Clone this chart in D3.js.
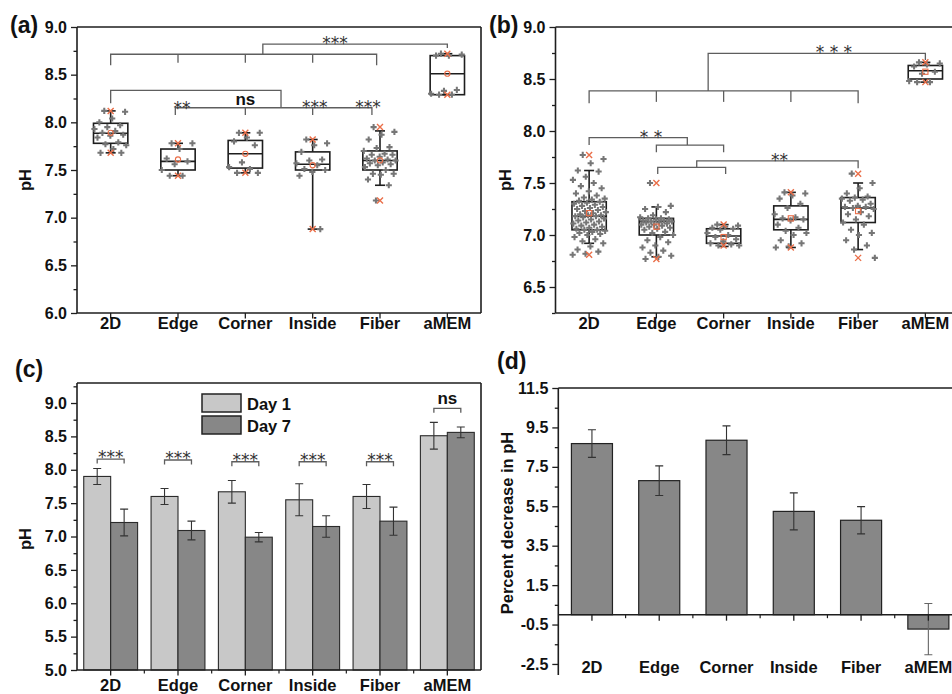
<!DOCTYPE html>
<html>
<head>
<meta charset="utf-8">
<script src="https://cdn.jsdelivr.net/npm/d3@7"></script>
<style>
  body { margin: 0; background: #fff; }
  svg { display: block; font-family: "Liberation Sans", Arial, sans-serif; }
</style>
</head>
<body>
<svg id="fig" width="952" height="694"></svg>
<script>
// Categories shared by all four panels
const categories = ['2D', 'Edge', 'Corner', 'Inside', 'Fiber', 'aMEM'];

// (a) Day 1 individual pH readings per category
const day1Points = [
  [8.12, 8.11, 8.04, 8.00, 7.97, 7.95, 7.93, 7.91, 7.89, 7.87, 7.86, 7.84, 7.79, 7.77, 7.76, 7.72, 7.68, 7.68],
  [7.78, 7.78, 7.72, 7.62, 7.59, 7.56, 7.50, 7.44, 7.44],
  [7.89, 7.89, 7.84, 7.80, 7.76, 7.58, 7.53, 7.51, 7.47, 7.47],
  [7.82, 7.78, 7.76, 7.69, 7.61, 7.60, 7.57, 7.55, 7.51, 7.50, 7.48, 7.44, 6.88],
  [7.95, 7.90, 7.87, 7.82, 7.74, 7.73, 7.70, 7.67, 7.66, 7.66, 7.64, 7.62, 7.61, 7.60, 7.60, 7.58, 7.57,
   7.56, 7.55, 7.53, 7.50, 7.46, 7.46, 7.45, 7.40, 7.34, 7.18],
  [8.72, 8.71, 8.70, 8.70, 8.34, 8.33, 8.30, 8.29, 8.29]
];
// box stats: [whisker low, Q1, median, Q3, whisker high, mean]
const day1Box = [
  [7.68, 7.78, 7.885, 7.99, 8.12, 7.89],
  [7.44, 7.50, 7.59, 7.72, 7.78, 7.61],
  [7.47, 7.52, 7.67, 7.81, 7.89, 7.67],
  [6.88, 7.50, 7.56, 7.69, 7.82, 7.55],
  [7.34, 7.50, 7.60, 7.70, 7.91, 7.60],
  [8.29, 8.29, 8.51, 8.70, 8.72, 8.51]
];

// (b) Day 7 individual pH readings per category
const day7Points = [
  [7.77, 7.73, 7.69, 7.62, 7.61, 7.56, 7.53, 7.50, 7.47, 7.45, 7.42, 7.40, 7.38, 7.36, 7.35, 7.34, 7.33,
   7.32, 7.31, 7.30, 7.29, 7.28, 7.27, 7.26, 7.25, 7.24, 7.23, 7.22, 7.21, 7.20, 7.19, 7.19, 7.18, 7.18,
   7.17, 7.16, 7.15, 7.14, 7.13, 7.12, 7.11, 7.10, 7.09, 7.08, 7.07, 7.06, 7.05, 7.05, 7.04, 7.03, 7.02,
   7.01, 7.00, 6.98, 6.96, 6.94, 6.92, 6.89, 6.86, 6.84, 6.82, 6.81],
  [7.50, 7.28, 7.27, 7.25, 7.22, 7.19, 7.17, 7.16, 7.16, 7.15, 7.15, 7.14, 7.14, 7.13, 7.13, 7.12, 7.12,
   7.11, 7.10, 7.10, 7.09, 7.08, 7.07, 7.06, 7.05, 7.03, 7.02, 7.00, 6.98, 6.95, 6.93, 6.90, 6.88, 6.85,
   6.83, 6.80, 6.79, 6.77],
  [7.10, 7.09, 7.08, 7.07, 7.06, 7.05, 7.02, 7.00, 6.98, 6.96, 6.94, 6.92, 6.91, 6.90, 6.90],
  [7.41, 7.40, 7.38, 7.35, 7.30, 7.26, 7.20, 7.17, 7.16, 7.15, 7.14, 7.10, 7.07, 7.04, 7.02, 7.00, 6.95,
   6.92, 6.89, 6.88],
  [7.59, 7.50, 7.45, 7.40, 7.37, 7.36, 7.35, 7.34, 7.33, 7.30, 7.28, 7.27, 7.27, 7.26, 7.25, 7.22, 7.20,
   7.18, 7.15, 7.12, 7.10, 7.05, 7.02, 7.00, 6.95, 6.90, 6.86, 6.78],
  [8.66, 8.65, 8.64, 8.62, 8.57, 8.55, 8.48, 8.47, 8.47]
];
const day7Box = [
  [6.92, 7.05, 7.18, 7.32, 7.62, 7.21],
  [6.79, 7.00, 7.13, 7.16, 7.27, 7.08],
  [6.89, 6.92, 6.99, 7.06, 7.10, 6.98],
  [6.88, 7.05, 7.15, 7.28, 7.41, 7.16],
  [6.86, 7.12, 7.26, 7.36, 7.50, 7.23],
  [8.47, 8.50, 8.58, 8.63, 8.66, 8.57]
];

// (c) mean pH and SD per day
const day1Mean = [7.90, 7.60, 7.67, 7.55, 7.60, 8.51];
const day1SD   = [0.12, 0.12, 0.17, 0.24, 0.18, 0.20];
const day7Mean = [7.21, 7.09, 6.99, 7.15, 7.23, 8.56];
const day7SD   = [0.20, 0.14, 0.07, 0.16, 0.21, 0.08];
const cSigLevel = [8.16, 8.146, 8.12, 8.12, 8.12, 8.92];
const cSigLabel = ['***', '***', '***', '***', '***', 'ns'];

// (d) percent decrease in pH
const pctDecrease    = [8.68, 6.80, 8.85, 5.24, 4.79, -0.73];
const pctDecreaseErr = [0.70, 0.75, 0.73, 0.94, 0.69, 1.30];

// tick labels
const ticksA = [6.0, 6.5, 7.0, 7.5, 8.0, 8.5, 9.0];
const ticksB = [6.5, 7.0, 7.5, 8.0, 8.5, 9.0];
const ticksC = [5.0, 5.5, 6.0, 6.5, 7.0, 7.5, 8.0, 8.5, 9.0];
const ticksD = [-2.5, -0.5, 1.5, 3.5, 5.5, 7.5, 9.5, 11.5];

// significance brackets: polylines in [category index, pH]
const sigLinesA = [
  [[0, 8.60], [0, 8.714], [3.95, 8.714], [3.95, 8.60]],
  [[1, 8.625], [1, 8.714]], [[2, 8.625], [2, 8.714]], [[3, 8.625], [3, 8.714]],
  [[2.26, 8.714], [2.26, 8.82], [5, 8.82], [5, 8.78]],
  [[0, 8.20], [0, 8.336], [2.53, 8.336], [2.53, 8.153]],
  [[0.96, 8.077], [0.96, 8.153], [3.88, 8.153], [3.88, 8.077]],
  [[2, 8.077], [2, 8.153]], [[3, 8.077], [3, 8.153]]
];
const sigTextA = [['***', 3.33, 8.864], ['**', 1.06, 8.19], ['ns', 2.0, 8.234], ['***', 3.03, 8.20], ['***', 3.82, 8.20]];
const sigLinesB = [
  [[0, 8.266], [0, 8.385], [4, 8.385], [4, 8.266]],
  [[1, 8.28], [1, 8.385]], [[2, 8.28], [2, 8.385]], [[3, 8.28], [3, 8.385]],
  [[1.77, 8.385], [1.77, 8.747], [5, 8.747], [5, 8.683]],
  [[0, 7.865], [0, 7.936], [1.46, 7.936], [1.46, 7.865]],
  [[1, 7.795], [1, 7.865], [2, 7.865], [2, 7.795]],
  [[1.6, 7.651], [1.6, 7.712], [4, 7.712], [4, 7.641]],
  [[1.02, 7.587], [1.02, 7.651], [2.03, 7.651], [2.03, 7.587]]
];
const sigTextB = [['* * *', 3.64, 8.79], ['* *', 0.92, 7.98], ['**', 2.83, 7.753]];

const svg = d3.select('#fig');
const ink = '#1e1e1e';
const orange = '#ea6e48';
const dotGray = '#767676';

function midpoints(arr) {
  return arr.slice(1).map((v, i) => (v + arr[i]) / 2);
}

// left axis with major + minor ticks
function leftAxis(g, y, left, major, minor, top, bottom) {
  g.append('g').attr('transform', `translate(${left},0)`)
    .call(d3.axisLeft(y).tickValues(minor).tickSize(3.5).tickFormat('').tickSizeOuter(0))
    .call(s => s.select('.domain').remove())
    .call(s => s.selectAll('line').attr('stroke', ink).attr('stroke-width', 1.3));
  g.append('g').attr('transform', `translate(${left},0)`)
    .call(d3.axisLeft(y).tickValues(major).tickSize(6).tickPadding(4)
      .tickFormat(d => d.toFixed(1)).tickSizeOuter(0))
    .call(s => s.select('.domain').remove())
    .call(s => s.selectAll('line').attr('stroke', ink).attr('stroke-width', 1.3))
    .call(s => s.selectAll('text').attr('fill', '#111').style('font-size', '16px')
      .style('font-weight', 'bold').style('font-family', '"Liberation Sans", Arial, sans-serif'));
  g.append('line').attr('x1', left).attr('x2', left).attr('y1', top).attr('y2', bottom)
    .attr('stroke', ink).attr('stroke-width', 1.6);
}

function bottomTicks(g, x, axisY, labelY, withMinor) {
  const step = x.step();
  g.selectAll(null).data(categories).join('line')
    .attr('x1', d => x(d)).attr('x2', d => x(d))
    .attr('y1', axisY).attr('y2', axisY + 5.5)
    .attr('stroke', ink).attr('stroke-width', 1.3);
  if (withMinor) {
    g.selectAll(null).data(categories.slice(1)).join('line')
      .attr('x1', d => x(d) - step / 2).attr('x2', d => x(d) - step / 2)
      .attr('y1', axisY).attr('y2', axisY + 3.5)
      .attr('stroke', ink).attr('stroke-width', 1.2);
  }
  g.selectAll(null).data(categories).join('text')
    .attr('x', d => x(d)).attr('y', labelY)
    .attr('text-anchor', 'middle')
    .style('font-size', '16.5px').style('font-weight', 'bold').attr('fill', '#111')
    .text(d => d);
}

function frame(g, left, right, top, bottom, sides) {
  if (sides.includes('top')) g.append('line').attr('x1', left).attr('x2', right).attr('y1', top).attr('y2', top)
    .attr('stroke', ink).attr('stroke-width', 1.6);
  if (sides.includes('right')) g.append('line').attr('x1', right).attr('x2', right).attr('y1', top).attr('y2', bottom)
    .attr('stroke', ink).attr('stroke-width', 1.6);
  if (sides.includes('bottom')) g.append('line').attr('x1', left).attr('x2', right).attr('y1', bottom).attr('y2', bottom)
    .attr('stroke', ink).attr('stroke-width', 1.6);
}

function yTitle(x, y, text) {
  svg.append('text').attr('transform', `translate(${x},${y}) rotate(-90)`)
    .attr('text-anchor', 'middle').style('font-size', '16.5px').style('font-weight', 'bold')
    .attr('fill', '#111').text(text);
}

function panelLabel(x, y, text) {
  svg.append('text').attr('x', x).attr('y', y).style('font-size', '23px')
    .style('font-weight', 'bold').attr('fill', '#111').text(text);
}

function sigText(g, label, cx, cy) {
  const isStar = label.includes('*');
  const fs = isStar ? 17 : 17;
  g.append('text').attr('x', cx).attr('y', cy + (isStar ? 0.56 * fs : 0.27 * fs))
    .attr('text-anchor', 'middle')
    .style('font-family', isStar ? '"DejaVu Sans", sans-serif' : '"Liberation Sans", Arial, sans-serif')
    .style('font-weight', isStar ? 'normal' : 'bold')
    .style('font-size', fs + 'px')
    .attr('fill', isStar ? '#333' : '#111')
    .text(label);
}

// box chart with jittered points (panels a and b)
function boxPanel(opts) {
  const { left, right, top, bottom, domain, ticks, points, box, lines, texts, meanShape } = opts;
  const g = svg.append('g');
  const x = d3.scalePoint().domain(categories).range([left, right]).padding(0.5);
  const y = d3.scaleLinear().domain(domain).range([bottom, top]);
  const step = x.step();
  const xi = i => x(categories[0]) + i * step;

  frame(g, left, right, top, bottom, ['top', 'right', 'bottom']);
  leftAxis(g, y, left, ticks, midpoints(ticks.concat([ticks[ticks.length - 1] + 0.5])).filter(v => v < domain[1] + 1e-9)
    .concat(domain[0] < ticks[0] ? [ticks[0] - 0.25] : []), top, bottom);
  bottomTicks(g, x, bottom, bottom + 16, false);

  // brackets
  const line = d3.line().x(d => xi(d[0])).y(d => y(d[1]));
  g.selectAll(null).data(lines).join('path')
    .attr('d', line).attr('fill', 'none').attr('stroke', '#5e5e5e').attr('stroke-width', 1.3);
  texts.forEach(t => sigText(g, t[0], xi(t[1]), y(t[2])));

  const bw = step * 0.51;
  const boxes = g.selectAll(null).data(box).join('g')
    .attr('transform', (d, i) => `translate(${x(categories[i])},0)`);
  boxes.append('line').attr('y1', d => y(d[0])).attr('y2', d => y(d[1]))
    .attr('stroke', ink).attr('stroke-width', 1.6);
  boxes.append('line').attr('y1', d => y(d[3])).attr('y2', d => y(d[4]))
    .attr('stroke', ink).attr('stroke-width', 1.6);
  [0, 4].forEach(k => boxes.append('line').attr('x1', -5).attr('x2', 5)
    .attr('y1', d => y(d[k])).attr('y2', d => y(d[k])).attr('stroke', ink).attr('stroke-width', 1.6));
  boxes.append('rect').attr('x', -bw / 2).attr('width', bw)
    .attr('y', d => y(d[3])).attr('height', d => y(d[1]) - y(d[3]))
    .attr('fill', 'none').attr('stroke', ink).attr('stroke-width', 1.6);
  boxes.append('line').attr('x1', -bw / 2).attr('x2', bw / 2)
    .attr('y1', d => y(d[2])).attr('y2', d => y(d[2])).attr('stroke', ink).attr('stroke-width', 1.6);

  // jittered raw points
  const spread = step * 0.5;
  const cross = d3.symbol(d3.symbolCross).size(21);
  points.forEach((vals, ci) => {
    g.selectAll(null).data(vals).join('path')
      .attr('d', cross)
      .attr('transform', (v, i) => `translate(${x(categories[ci]) + (((i * 0.618034 + 0.31) % 1) - 0.5) * spread},${y(v)})`)
      .attr('fill', dotGray);
    // min / max markers
    [d3.min(vals), d3.max(vals)].forEach(v => {
      const cx = x(categories[ci]), cy = y(v);
      g.append('path').attr('d', `M${cx - 3},${cy - 3}L${cx + 3},${cy + 3}M${cx + 3},${cy - 3}L${cx - 3},${cy + 3}`)
        .attr('stroke', orange).attr('stroke-width', 1.4);
    });
  });
  // mean markers
  box.forEach((d, ci) => {
    const cx = x(categories[ci]), cy = y(d[5]);
    if (meanShape === 'circle') {
      g.append('circle').attr('cx', cx).attr('cy', cy).attr('r', 2.6)
        .attr('fill', 'none').attr('stroke', orange).attr('stroke-width', 1.1);
    } else {
      g.append('rect').attr('x', cx - 2.6).attr('y', cy - 2.6).attr('width', 5.2).attr('height', 5.2)
        .attr('fill', 'none').attr('stroke', orange).attr('stroke-width', 1.1);
    }
  });
}

// ---------------- (a) ----------------
boxPanel({
  left: 77, right: 481, top: 27, bottom: 313, domain: [6, 9], ticks: ticksA,
  points: day1Points, box: day1Box, lines: sigLinesA, texts: sigTextA, meanShape: 'circle'
});
yTitle(31, 180, 'pH');
panelLabel(10, 33, '(a)');

// ---------------- (b) ----------------
boxPanel({
  left: 555.5, right: 959, top: 27, bottom: 313, domain: [6.25, 9], ticks: ticksB,
  points: day7Points, box: day7Box, lines: sigLinesB, texts: sigTextB, meanShape: 'square'
});
yTitle(511, 180, 'pH');
panelLabel(489, 33, '(b)');

// ---------------- (c) ----------------
(function () {
  const left = 77, right = 481, top = 383, bottom = 670;
  const g = svg.append('g');
  const x = d3.scalePoint().domain(categories).range([left, right]).padding(0.5);
  const step = x.step();
  const xd = d3.scaleBand().domain(['Day 1', 'Day 7']).range([-0.4 * step, 0.4 * step]).padding(0);
  const y = d3.scaleLinear().domain([5, 9.3]).range([bottom, top]);
  const colors = { 'Day 1': '#c8c8c8', 'Day 7': '#878787' };
  const series = [
    { key: 'Day 1', mean: day1Mean, sd: day1SD },
    { key: 'Day 7', mean: day7Mean, sd: day7SD }
  ];

  series.forEach(s => {
    g.selectAll(null).data(s.mean).join('rect')
      .attr('x', (d, i) => x(categories[i]) + xd(s.key))
      .attr('width', xd.bandwidth())
      .attr('y', d => y(d)).attr('height', d => y(5) - y(d))
      .attr('fill', colors[s.key]).attr('stroke', '#2a2a2a').attr('stroke-width', 1.1);
    s.mean.forEach((m, i) => {
      const cx = x(categories[i]) + xd(s.key) + xd.bandwidth() / 2;
      const y1 = y(m + s.sd[i]), y2 = y(m - s.sd[i]);
      g.append('path').attr('d', `M${cx},${y1}V${y2}M${cx - 4},${y1}H${cx + 4}M${cx - 4},${y2}H${cx + 4}`)
        .attr('stroke', '#333').attr('stroke-width', 1.1).attr('fill', 'none');
    });
  });

  frame(g, left, right, top, bottom, ['top', 'right', 'bottom']);
  const minorC = midpoints(ticksC).concat([9.25]);
  leftAxis(g, y, left, ticksC, minorC, top, bottom);
  bottomTicks(g, x, bottom, 691, true);

  // Day 1 vs Day 7 significance
  cSigLevel.forEach((lv, i) => {
    const c = x(categories[i]);
    const xa = c + xd('Day 1') + xd.bandwidth() / 2, xb = c + xd('Day 7') + xd.bandwidth() / 2;
    const yl = y(lv), yd = y(lv) + 4.5;
    g.append('path').attr('d', `M${xa},${yd}V${yl}H${xb}V${yd}`)
      .attr('fill', 'none').attr('stroke', '#5e5e5e').attr('stroke-width', 1.3);
    sigText(g, cSigLabel[i], c, yl - (cSigLabel[i] === 'ns' ? 8.5 : 5.5));
  });

  // legend
  const leg = g.append('g').attr('transform', 'translate(202,394)');
  ['Day 1', 'Day 7'].forEach((k, i) => {
    leg.append('rect').attr('x', 0).attr('y', i * 22).attr('width', 39).attr('height', 18)
      .attr('fill', colors[k]).attr('stroke', '#222').attr('stroke-width', 1.5);
    leg.append('text').attr('x', 45).attr('y', i * 22 + 16).style('font-size', '16.5px')
      .style('font-weight', 'bold').attr('fill', '#111').text(k);
  });
})();
yTitle(31, 539, 'pH');
panelLabel(15, 377, '(c)');

// ---------------- (d) ----------------
(function () {
  const left = 558.3, right = 962, top = 388, bottom = 675;
  const g = svg.append('g');
  const x = d3.scalePoint().domain(categories).range([left, right]).padding(0.5);
  const step = x.step();
  const y = d3.scaleLinear().domain([-3.06, 11.5]).range([bottom, top]);
  const bw = step * 0.61;

  g.selectAll(null).data(pctDecrease).join('rect')
    .attr('x', (d, i) => x(categories[i]) - bw / 2).attr('width', bw)
    .attr('y', d => y(Math.max(0, d))).attr('height', d => Math.abs(y(d) - y(0)))
    .attr('fill', '#878787').attr('stroke', '#222').attr('stroke-width', 1.2);
  pctDecrease.forEach((m, i) => {
    const cx = x(categories[i]);
    const y1 = y(m + pctDecreaseErr[i]), y2 = y(m - pctDecreaseErr[i]);
    g.append('path').attr('d', `M${cx},${y1}V${y2}M${cx - 4},${y1}H${cx + 4}M${cx - 4},${y2}H${cx + 4}`)
      .attr('stroke', i === 5 ? '#666' : '#333').attr('stroke-width', 1.1).attr('fill', 'none');
  });

  frame(g, left, right, top, bottom, ['top', 'right']);
  g.append('line').attr('x1', left).attr('x2', right).attr('y1', y(0)).attr('y2', y(0))
    .attr('stroke', ink).attr('stroke-width', 1.6);
  leftAxis(g, y, left, ticksD, midpoints(ticksD), top, bottom);
  // ticks on zero line, labels at bottom
  g.selectAll(null).data(categories).join('line')
    .attr('x1', d => x(d)).attr('x2', d => x(d))
    .attr('y1', y(0)).attr('y2', y(0) + 6)
    .attr('stroke', ink).attr('stroke-width', 1.3);
  g.selectAll(null).data(categories.slice(1)).join('line')
    .attr('x1', d => x(d) - step / 2).attr('x2', d => x(d) - step / 2)
    .attr('y1', y(0)).attr('y2', y(0) + 3.5)
    .attr('stroke', ink).attr('stroke-width', 1.2);
  g.selectAll(null).data(categories).join('text')
    .attr('x', d => x(d)).attr('y', 673).attr('text-anchor', 'middle')
    .style('font-size', '16.5px').style('font-weight', 'bold').attr('fill', '#111')
    .text(d => d);
})();
yTitle(513, 523, 'Percent decrease in pH');
panelLabel(497, 369, '(d)');
</script>
</body>
</html>
